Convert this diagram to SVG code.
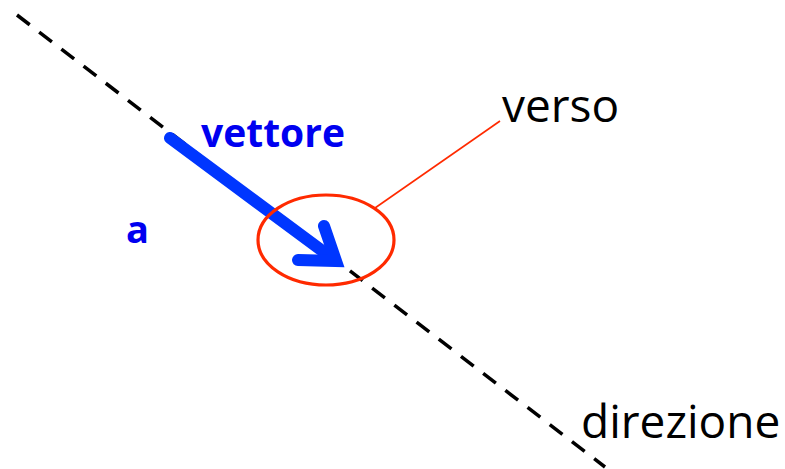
<svg xmlns="http://www.w3.org/2000/svg" width="785" height="469" viewBox="0 0 785 469">
<style>
.dir{stroke:#000;stroke-width:3.5;stroke-dasharray:16 12;fill:none}
.vec{stroke:#0036ff;stroke-width:12;fill:none;stroke-linecap:round;stroke-linejoin:miter}
.red{stroke:#ff2a00;fill:none}
.lbl{font-family:"Open Sans","Liberation Sans",sans-serif}
.blue{fill:#0000f0;font-weight:bold}
</style>
<rect width="785" height="469" fill="#fff"/>
<g id="connectors">
<line class="dir" x1="17" y1="15" x2="605" y2="467"/>
<line class="red" stroke-width="1.6" x1="375" y1="208" x2="500" y2="121"/>
</g>
<g id="vector">
<line class="vec" x1="170" y1="138" x2="332" y2="258" stroke-linecap="butt"/>
<path class="vec" d="M324 226 L336 261 L298 260" stroke-linecap="round"/>
</g>
<g id="verso-ellipse">
<ellipse class="red" stroke-width="3.2" cx="326" cy="240" rx="68" ry="45"/>
</g>
<g id="label-vettore"><text class="lbl blue" x="201" y="147" font-size="39">vettore</text></g>
<g id="label-a"><text class="lbl blue" x="126" y="243" font-size="38">a</text></g>
<g id="label-verso"><text class="lbl" x="502" y="122" font-size="46">verso</text></g>
<g id="label-direzione"><text class="lbl" x="581" y="438" font-size="46">direzione</text></g>
</svg>
